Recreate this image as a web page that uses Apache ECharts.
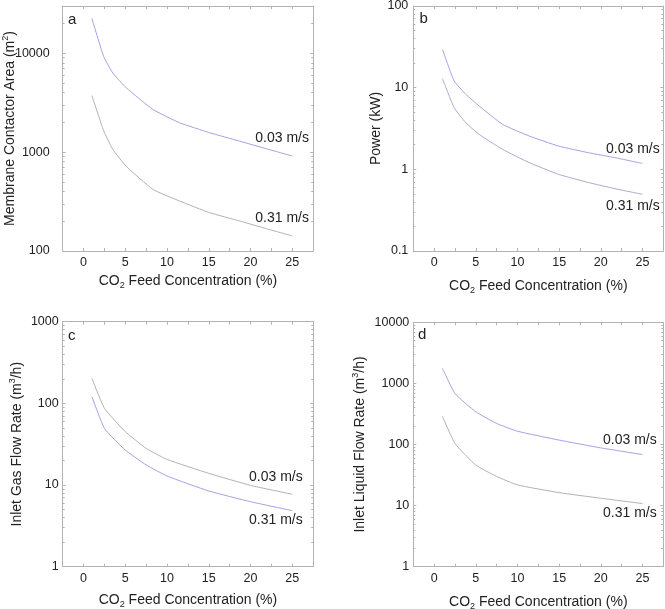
<!DOCTYPE html>
<html>
<head>
<meta charset="utf-8">
<script src="https://cdn.jsdelivr.net/npm/echarts@6/dist/echarts.min.js"></script>
<style>
  html, body { margin: 0; padding: 0; background: #fff; }
  #main { width: 665px; height: 609px; }
</style>
</head>
<body>
<div id="main"></div>
<script>
// values (x = CO2 feed concentration, %)
var xA = [1, 2.4, 3.5, 5.1, 8.3, 11.5, 15.1, 18.7, 21.9, 25];
var areaSlow = [22400, 9300, 6300, 4480, 2700, 1980, 1570, 1290, 1080, 913];
var areaFast = [3730, 1650, 1065, 720, 420, 320, 244, 201, 168, 142];

var xB = [1, 2.4, 3.8, 5.4, 8.2, 11.4, 14.9, 18.5, 21.7, 25];
var powerSlow = [29.4, 12.1, 8.3, 5.97, 3.56, 2.56, 1.93, 1.6, 1.39, 1.18];
var powerFast = [12.9, 5.7, 3.72, 2.68, 1.76, 1.21, 0.87, 0.69, 0.58, 0.494];

var xC = [1, 2.5, 5, 7.5, 10, 15, 20, 25];
var gasSlow = [202, 87, 45, 28.1, 20.6, 13.9, 9.9, 7.7];
var gasFast = [121, 49.4, 26.8, 17.6, 12.9, 8.45, 6.25, 4.85];

var xD = [1, 2.5, 5, 7.5, 10, 15, 20, 25];
var liquidSlow = [1760, 685, 343, 221, 165, 118, 88, 68.5];
var liquidFast = [288, 104, 46, 30, 21.8, 16.3, 13.2, 10.8];

var xTicks = [0, 5, 10, 15, 20, 25];
var speeds = ['0.03 m/s', '0.31 m/s'];
var letters = ['a', 'b', 'c', 'd'];

var FONT = 'Liberation Sans, Arial, sans-serif';
var frame = '#b3b3b3';
var blue = '#a3a3e2';
var gray = '#b2b2b2';

function pairs(xs, ys) {
  return xs.map(function (x, i) { return [x, ys[i]]; });
}

var grids = [
  { left: 62.7, top: 6, width: 250.5, height: 245 },
  { left: 413.3, top: 6, width: 250, height: 245 },
  { left: 62.7, top: 321.7, width: 250.5, height: 245 },
  { left: 413.3, top: 322.3, width: 250, height: 244.4 }
];
grids.forEach(function (g) { g.outerBoundsMode = 'none'; });

var yNames = [
  'Membrane Contactor Area (m{p|2})',
  'Power (kW)',
  'Inlet Gas Flow Rate (m{p|3}/h)',
  'Inlet Liquid Flow Rate (m{p|3}/h)'
];
var yMin = [100, 0.1, 1, 1];
var yMax = [30000, 100, 1000, 10000];
var yNameGap = [44, 28, 37, 44];
var yLabelMargin = [13, 5, 4, 4];
var xNameGap = [21, 26, 24, 26];

var tickStyle = { color: frame, width: 1 };

var xAxis = [], yAxis = [];
grids.forEach(function (g, i) {
  xAxis.push({
    type: 'value', gridIndex: i, position: 'bottom',
    min: -2.5, max: 27.5, interval: 2.5,
    name: 'CO{s|2} Feed Concentration (%)',
    nameLocation: 'middle', nameGap: xNameGap[i], nameMoveOverlap: false,
    nameTextStyle: {
      fontSize: 14, fontFamily: FONT, color: '#222', lineHeight: 18,
      rich: { s: { fontSize: 9, fontFamily: FONT, color: '#222', verticalAlign: 'bottom', lineHeight: 10 } }
    },
    axisLine: { onZero: false, lineStyle: tickStyle },
    axisTick: { inside: true, length: 3, lineStyle: tickStyle },
    axisLabel: {
      margin: 5, fontSize: 12.5, fontFamily: FONT, color: '#222',
      formatter: function (v) { return xTicks.indexOf(v) >= 0 ? String(v) : ''; }
    },
    splitLine: { show: false }
  });
  xAxis.push({
    type: 'value', gridIndex: i, position: 'top',
    min: -2.5, max: 27.5, interval: 2.5,
    axisLine: { onZero: false, lineStyle: tickStyle },
    axisTick: { inside: true, length: 3, lineStyle: tickStyle },
    axisLabel: { show: false },
    splitLine: { show: false }
  });
  yAxis.push({
    type: 'log', gridIndex: i, position: 'left', logBase: 10,
    min: yMin[i], max: yMax[i],
    name: yNames[i], nameLocation: 'middle', nameGap: yNameGap[i], nameRotate: 90,
    nameMoveOverlap: false,
    nameTextStyle: {
      fontSize: 14, fontFamily: FONT, color: '#222', lineHeight: 18,
      rich: { p: { fontSize: 9, fontFamily: FONT, color: '#222', verticalAlign: 'top', lineHeight: 10 } }
    },
    axisLine: { show: true, onZero: false, lineStyle: tickStyle },
    axisTick: { inside: true, length: 3, lineStyle: tickStyle },
    minorTick: { show: true, splitNumber: 9, length: 2, lineStyle: tickStyle },
    axisLabel: {
      margin: yLabelMargin[i], fontSize: 12.5, fontFamily: FONT, color: '#222',
      formatter: function (v) {
        var l = Math.log10(v);
        return Math.abs(l - Math.round(l)) < 1e-6 ? String(Number(v.toPrecision(6))) : '';
      }
    },
    splitLine: { show: false }
  });
  yAxis.push({
    type: 'log', gridIndex: i, position: 'right', logBase: 10,
    min: yMin[i], max: yMax[i],
    axisLine: { show: true, onZero: false, lineStyle: tickStyle },
    axisTick: { inside: true, length: 3, lineStyle: tickStyle },
    minorTick: { show: true, splitNumber: 9, length: 2, lineStyle: tickStyle },
    axisLabel: { show: false },
    splitLine: { show: false }
  });
});

var panels = [
  [pairs(xA, areaSlow), pairs(xA, areaFast), blue, gray],
  [pairs(xB, powerSlow), pairs(xB, powerFast), blue, '#ababd0'],
  [pairs(xC, gasSlow), pairs(xC, gasFast), gray, blue],
  [pairs(xD, liquidSlow), pairs(xD, liquidFast), blue, gray]
];

var series = [];
panels.forEach(function (p, i) {
  [0, 1].forEach(function (k) {
    series.push({
      type: 'line', name: speeds[k] + ' ' + letters[i],
      xAxisIndex: i * 2, yAxisIndex: i * 2,
      data: p[k], showSymbol: false, smooth: 0.15,
      lineStyle: { color: p[2 + k], width: 1 },
      silent: true
    });
  });
});

// annotation text (positions in pixels)
var speedLabelPos = [
  [[309, 137.7], [309, 217.7]],
  [[659.7, 149.3], [659.7, 206]],
  [[302.7, 476.7], [302.7, 520]],
  [[656.7, 440], [656.7, 513.3]]
];
var letterPos = [[68, 20], [419.5, 19], [68, 336], [418, 335]];

var graphic = [];
speedLabelPos.forEach(function (pp) {
  pp.forEach(function (pos, k) {
    graphic.push({
      type: 'text', x: pos[0], y: pos[1],
      style: { text: speeds[k], align: 'right', verticalAlign: 'middle', fontSize: 14, fontFamily: FONT, fill: '#222' }
    });
  });
});
letterPos.forEach(function (pos, i) {
  graphic.push({
    type: 'text', x: pos[0], y: pos[1],
    style: { text: letters[i], align: 'left', verticalAlign: 'middle', fontSize: 15, fontFamily: FONT, fill: '#222' }
  });
});

var myChart = echarts.init(document.getElementById('main'));
myChart.setOption({
  animation: false,
  backgroundColor: '#fff',
  grid: grids,
  xAxis: xAxis,
  yAxis: yAxis,
  series: series,
  graphic: graphic
});
</script>
</body>
</html>
